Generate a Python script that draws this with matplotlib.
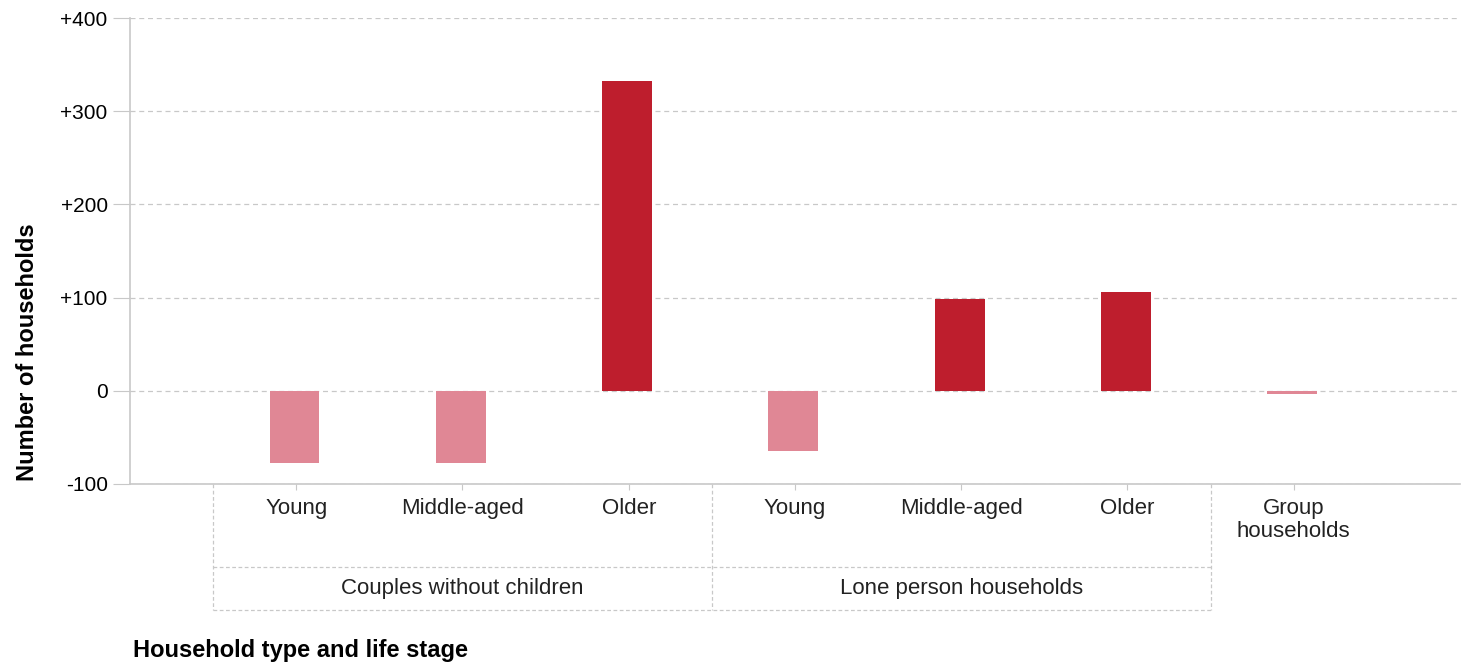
import matplotlib
matplotlib.use("Agg")
import matplotlib.pyplot as plt
import numpy as np

plt.rcParams['font.family'] = ['Liberation Sans', 'DejaVu Sans']

# data
stages = ["Young", "Middle-aged", "Older", "Young", "Middle-aged", "Older", "Group\nhouseholds"]
change = [-78, -78, 332, -65, 98, 106, -3]
groups = ["Couples without children", "Lone person households"]
group_spans = [(0.5, 3.5), (3.5, 6.5)]
yticks = [-100, 0, 100, 200, 300, 400]
ytick_labels = ["-100", "0", "+100", "+200", "+300", "+400"]

pos_col = "#BE1E2D"
neg_col = "#E08795"
grid_col = "#C8C8C8"

fig = plt.figure(figsize=(14.7, 6.65), dpi=100)
ax = fig.add_axes([0.0884, 0.2722, 0.9048, 0.7007])

x = np.arange(1, len(stages) + 1)
colors = [pos_col if v > 0 else neg_col for v in change]
ax.bar(x - 0.01, change, width=0.3, color=colors, zorder=3)

ax.set_xlim(0, 8)
ax.set_ylim(-100, 400)
ax.set_yticks(yticks)
ax.set_yticklabels(ytick_labels, fontsize=15)
ax.set_xticks(x)
ax.set_xticklabels(stages, fontsize=16, color="#222222", linespacing=1.15)
ax.tick_params(axis="x", length=4, color=grid_col, pad=6)
ax.tick_params(axis="y", length=12, color=grid_col, pad=4)

ax.grid(axis="y", linestyle=(0, (4, 3)), color=grid_col, linewidth=0.9, zorder=0)
for s in ["top", "right"]:
    ax.spines[s].set_visible(False)
ax.spines["left"].set_color(grid_col)
ax.spines["bottom"].set_color(grid_col)
ax.spines["left"].set_linewidth(1.2)
ax.spines["bottom"].set_linewidth(1.2)

# grouping boxes under the axis
trans = ax.get_xaxis_transform()
y_mid = -0.178
y_low = -0.27
dash = (0, (3, 2))
for xv in [0.5, 3.5, 6.5]:
    ax.plot([xv, xv], [0, y_low], transform=trans, clip_on=False,
            color=grid_col, linestyle=dash, linewidth=0.9)
for yv in [y_mid, y_low]:
    ax.plot([0.5, 6.5], [yv, yv], transform=trans, clip_on=False,
            color=grid_col, linestyle=dash, linewidth=0.9)
for name, (a, b) in zip(groups, group_spans):
    ax.text((a + b) / 2, (y_mid + y_low) / 2, name, transform=trans,
            ha="center", va="center", fontsize=16, color="#222222")

fig.text(27 / 1470, 1 - 352 / 665, "Number of households", rotation=90,
         ha="center", va="center", fontsize=17, fontweight="bold")
fig.text(133 / 1470, 1 - 651 / 665, "Household type and life stage",
         ha="left", va="center", fontsize=17, fontweight="bold")

fig.savefig("out.png", dpi=100)
